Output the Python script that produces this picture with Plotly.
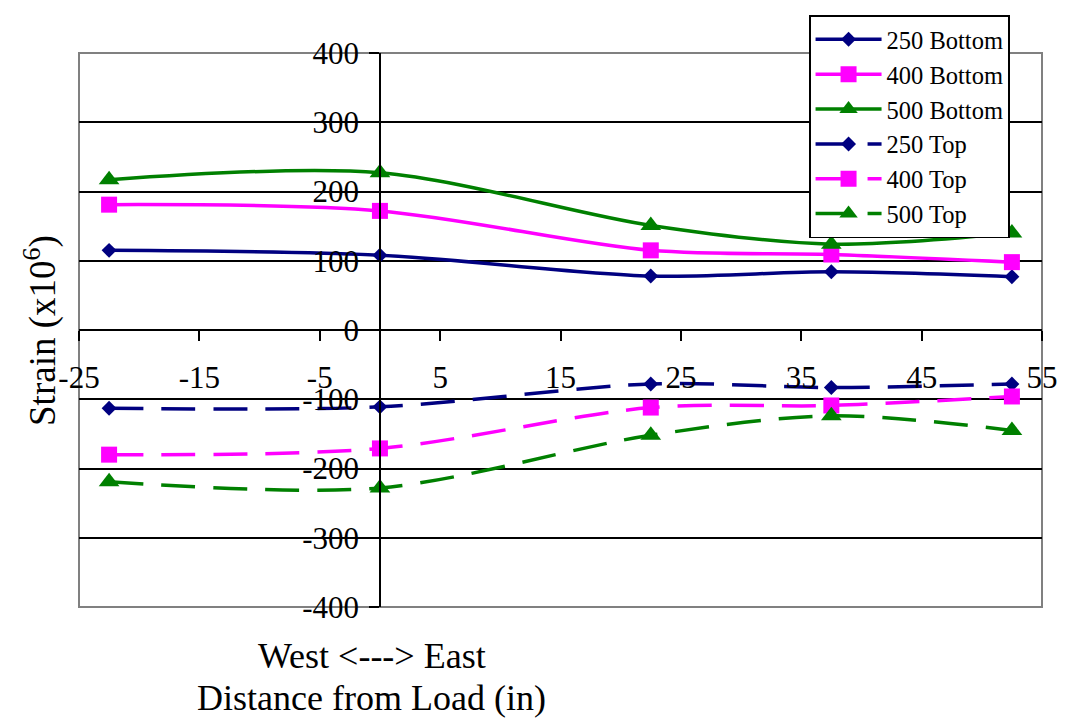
import plotly.graph_objects as go

# Gauge positions along the member (in), negative = west of load
distance = [-22.5, 0, 22.5, 37.5, 52.5]

# Strain readings (microstrain)
bottom_250 = [115, 108, 78, 84, 77]
bottom_400 = [181, 172, 115, 109, 98]
bottom_500 = [217, 227, 151, 124, 140]
top_250 = [-113, -111, -78, -83, -78]
top_400 = [-180, -171, -112, -109, -96]
top_500 = [-219, -228, -152, -124, -145]

x_ticks = [-25, -15, -5, 5, 15, 25, 35, 45, 55]
y_ticks = [-400, -300, -200, -100, 0, 100, 200, 300, 400]

NAVY = "#000080"
MAGENTA = "#FF00FF"
GREEN = "#008000"
FONT = "Liberation Serif, Times New Roman, serif"
DASH = "34px,18px"

series = [
    ("250 Bottom", bottom_250, NAVY, "diamond", 11.5, "solid"),
    ("400 Bottom", bottom_400, MAGENTA, "square", 16, "solid"),
    ("500 Bottom", bottom_500, GREEN, "triangle-up", 18, "solid"),
    ("250 Top", top_250, NAVY, "diamond", 11.5, DASH),
    ("400 Top", top_400, MAGENTA, "square", 16, DASH),
    ("500 Top", top_500, GREEN, "triangle-up", 18, DASH),
]

fig = go.Figure()
for name, vals, color, symbol, size, dash in series:
    fig.add_trace(go.Scatter(
        x=distance, y=vals, name=name, mode="lines+markers",
        line=dict(color=color, width=3.5, dash=dash, shape="spline", smoothing=0.9),
        marker=dict(symbol=symbol, size=size, color=color, line=dict(width=0)),
    ))

fig.update_layout(
    width=1070, height=719,
    margin=dict(l=79, r=21, t=53, b=112),
    paper_bgcolor="white", plot_bgcolor="white",
    font=dict(family=FONT, color="black", size=31),
    showlegend=True,
    legend=dict(
        x=0.758, y=1.068, xanchor="left", yanchor="top",
        bgcolor="white", bordercolor="black", borderwidth=1.6,
        font=dict(family=FONT, size=24.5, color="black"),
        itemwidth=66, tracegroupgap=0,
    ),
    xaxis=dict(
        range=[-25, 55], tickvals=x_ticks, ticktext=[str(v) for v in x_ticks],
        showgrid=False, zeroline=False,
        showline=True, linecolor="black", linewidth=1.5,
        anchor="free", position=0.5,
        ticks="outside", ticklen=10, tickwidth=1.5, tickcolor="black",
        ticklabelstandoff=10,
        tickfont=dict(family=FONT, size=31, color="black"),
    ),
    yaxis=dict(
        range=[-400, 400], tickvals=y_ticks, ticktext=[str(v) for v in y_ticks],
        showgrid=True, gridcolor="black", gridwidth=1.5, zeroline=False,
        showline=True, linecolor="black", linewidth=1.5,
        anchor="free", position=25 / 80,
        ticks="outside", ticklen=10, tickwidth=1.5, tickcolor="black",
        ticklabelstandoff=4,
        tickfont=dict(family=FONT, size=31, color="black"),
    ),
    shapes=[dict(
        type="rect", xref="x domain", yref="y domain", x0=0, x1=1, y0=0, y1=1,
        line=dict(color="#808080", width=2), layer="below",
    )],
    annotations=[
        dict(text="Strain (x10<sup>6</sup>)", xref="paper", yref="paper",
             x=-0.0395, y=0.5, textangle=-90, showarrow=False,
             xanchor="center", yanchor="middle",
             font=dict(family=FONT, size=37, color="black")),
        dict(text="West <---> East", xref="paper", yref="paper",
             x=(374 - 79) / 970, y=-(655 - 606.5) / 553.5, showarrow=False,
             xanchor="center", yanchor="middle",
             font=dict(family=FONT, size=36, color="black")),
        dict(text="Distance from Load (in)", xref="paper", yref="paper",
             x=(374 - 79) / 970, y=-(697 - 606.5) / 553.5, showarrow=False,
             xanchor="center", yanchor="middle",
             font=dict(family=FONT, size=36, color="black")),
    ],
)

fig.write_html("out.html")
